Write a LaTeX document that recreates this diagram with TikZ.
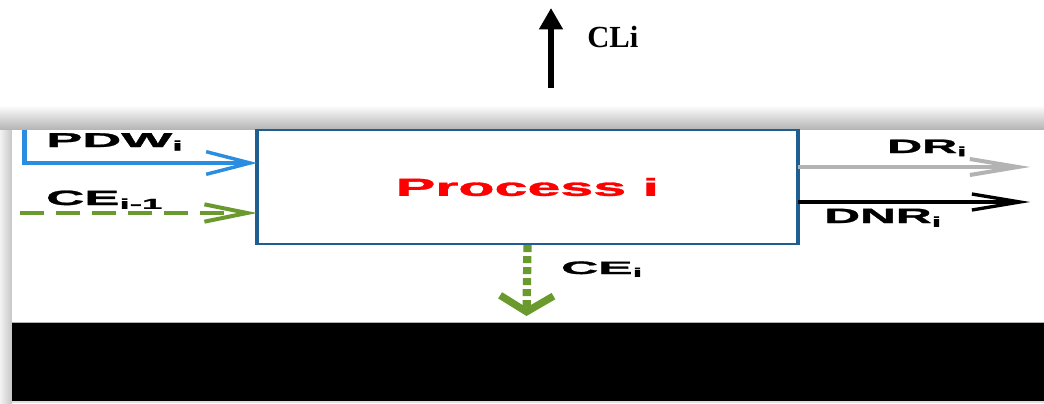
\documentclass[tikz,border=0pt]{standalone}
\usepackage{fontspec}
\usetikzlibrary{arrows.meta}
\newfontfamily\labfont{Liberation Sans}[BoldFeatures={FakeBold=1.2}]
\newfontfamily\serfont{Liberation Serif}
\definecolor{boxblue}{HTML}{1F5E91}
\definecolor{inblue}{HTML}{2B8DE0}
\definecolor{cegreen}{HTML}{6A9A2E}
\definecolor{drgray}{HTML}{B3B3B3}
\newcommand{\stretchlab}[3]{\scalebox{#1}[1]{\fontsize{#2}{#2}\selectfont\labfont\bfseries #3}}
\begin{document}
\begin{tikzpicture}[x=0.75pt,y=-0.75pt,
  lab/.style={inner sep=0pt, anchor=base west},
  procbox/.style={draw=boxblue, line width=1.6pt, minimum width=404pt, minimum height=85.5pt, inner sep=0pt},
]
\useasboundingbox (0,0) rectangle (1044,403);
% background / shadows
\shade[top color=white,bottom color=gray!60] (0,105) rectangle (1044,130);
\shade[left color=gray!10,right color=gray!45] (0,130) rectangle (12,403);
\fill[white] (12,130) rectangle (1044,322);
\fill[black] (12,322) rectangle (1044,401);
\draw[gray!60, line width=0.75pt] (12,322) -- (1044,322);
\fill[gray!25] (12,401) rectangle (1044,403);

% process box
\node[procbox] (proc) at (527.5,187) {\stretchlab{2.4}{18.5}{\color{red}Process i}};
\draw[boxblue, line width=3pt] (proc.north west) -- (proc.south west);
\draw[boxblue, line width=3pt] (proc.north east) -- (proc.south east);

% CLi
\coordinate (cl0) at (551,88);
\coordinate (cl1) at (551,8);
\draw[line width=4.5pt, -{Triangle[length=16pt,width=17pt]}] (cl0) -- (cl1);
\node[lab, font=\serfont\bfseries\fontsize{23}{23}\selectfont] (cli) at (587,48) {CLi};

% PDW arrow
\coordinate (pdw0) at (24,130);
\coordinate (pdwy) at (0,163);
\draw[inblue, line width=3.75pt] (pdw0) -- (pdw0 |- pdwy);
\draw[inblue, line width=2.6pt, -{Straight Barb[length=33pt,width=17pt]}] (pdw0) |- (proc.west |- pdwy);

% CE i-1 arrow
\coordinate (ce0) at (20,213);
\draw[cegreen, line width=3pt, dash pattern=on 18pt off 9pt, -{Straight Barb[length=32pt,width=13pt]}] (ce0) -- (proc.west |- ce0);

% DR arrow
\coordinate (dr1) at (1030,167);
\draw[drgray, line width=3pt, -{Straight Barb[length=36pt,width=12pt]}] (proc.east |- dr1) -- (dr1);

% DNR arrow
\coordinate (dnr1) at (1030,202);
\draw[black, line width=2.5pt, -{Straight Barb[length=36pt,width=12pt]}] (proc.east |- dnr1) -- (dnr1);

% CE i down arrow
\coordinate (cei1) at (526.5,316);
\draw[cegreen, line width=6.2pt, dash pattern=on 5.25pt off 3pt, -{Straight Barb[length=12pt,width=40pt,line width=5.5pt]}] (proc.south) -- (cei1);

% labels
\node[lab] (pdw) at (46,147) {\stretchlab{2.7}{15}{PDW\textsubscript{i}}};
\node[lab] (cem) at (46,205) {\stretchlab{2.55}{15.5}{CE\textsubscript{i-1}}};
\node[lab] (dr) at (887,153) {\stretchlab{2.5}{14.5}{DR\textsubscript{i}}};
\node[lab] (dnr) at (824,223) {\stretchlab{2.4}{15.5}{DNR\textsubscript{i}}};
\node[lab] (cei) at (561,274) {\stretchlab{2.85}{13.5}{CE\textsubscript{i}}};
\end{tikzpicture}
\end{document}
